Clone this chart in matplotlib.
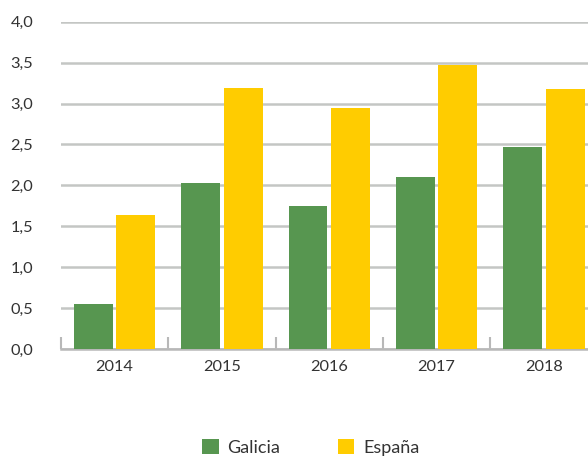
import matplotlib
matplotlib.use("Agg")
import matplotlib.pyplot as plt
import numpy as np

years = ["2014", "2015", "2016", "2017", "2018"]
galicia = [0.55, 2.03, 1.75, 2.10, 2.47]
espana = [1.64, 3.19, 2.95, 3.47, 3.18]
yticks = [0.0, 0.5, 1.0, 1.5, 2.0, 2.5, 3.0, 3.5, 4.0]

plt.rcParams['font.family'] = ['Lato', 'DejaVu Sans']

fig = plt.figure(figsize=(5.88, 4.58), dpi=100)
W, H = 588, 458
# axes run past the right edge of the figure
ax = fig.add_axes([61 / W, (H - 349) / H, 536.5 / W, (349 - 21.7) / H])

x = np.arange(len(years))
bw = 0.363
ax.bar(x - 0.198, galicia, bw, color='#579650', label='Galicia', zorder=3)
ax.bar(x + 0.198, espana, bw, color='#FFCC00', label='España', zorder=3)

ax.set_xlim(-0.5, len(years) - 0.5)
ax.set_ylim(0, 4.0)
ax.set_yticks(yticks)
ax.set_yticklabels([f"{v:.1f}".replace('.', ',') for v in yticks],
                   fontsize=11.8, color='#333333')
ax.yaxis.grid(True, color='#c4c6c4', linewidth=1.8, zorder=0)
ax.tick_params(axis='y', length=0, pad=20)

# year labels centered, ticks at the category boundaries
ax.set_xticks(x)
ax.set_xticklabels(years, fontsize=11.8, color='#333333')
ax.tick_params(axis='x', length=0, pad=8)
ax.set_xticks(np.arange(len(years) + 1) - 0.5, minor=True)
ax.tick_params(axis='x', which='minor', direction='in', length=9,
               width=1.5, color='#b8b8b8')

for s in ['left', 'right', 'top']:
    ax.spines[s].set_visible(False)
ax.spines['bottom'].set_color('#b8b8b8')
ax.spines['bottom'].set_linewidth(1.8)

fig.legend(loc='center', bbox_to_anchor=(311 / W, (H - 447.5) / H), ncol=2,
           frameon=False, fontsize=13, handlelength=0.9, handleheight=0.9,
           handletextpad=0.5, columnspacing=3.2, labelcolor='#333333',
           borderaxespad=0, borderpad=0)

fig.savefig('out.png', dpi=100)
